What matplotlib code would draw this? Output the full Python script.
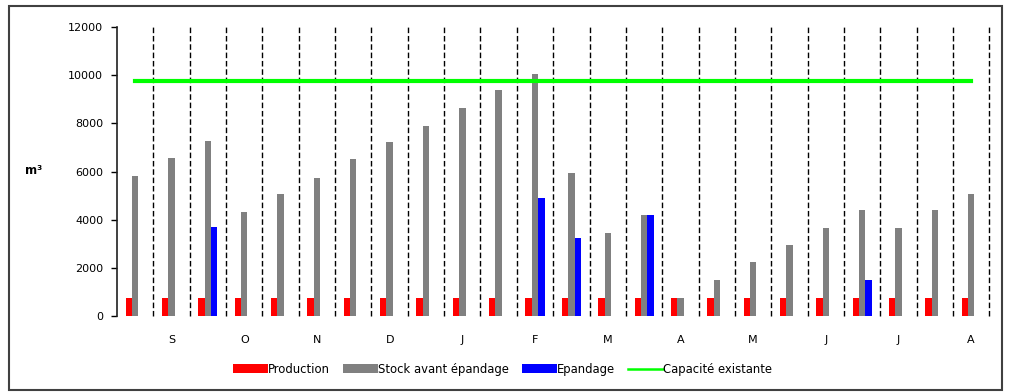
import matplotlib.pyplot as plt
from matplotlib.lines import Line2D
from matplotlib.patches import Rectangle
import numpy as np

plt.rcParams['font.family'] = ['DejaVu Sans']

# half-month periods, September to August
months = ['', 'S', '', 'O', '', 'N', '', 'D', '', 'J', '', 'F',
          '', 'M', '', 'A', '', 'M', '', 'J', '', 'J', '', 'A']
production = [750] * 24
stock = [5800, 6550, 7250, 4300, 5080, 5750, 6500, 7240, 7900, 8650, 9400, 10060,
         5950, 3450, 4200, 750, 1500, 2250, 2950, 3650, 4400, 3650, 4400, 5080]
epandage = [0, 0, 3700, 0, 0, 0, 0, 0, 0, 0, 0, 4920,
            3250, 0, 4200, 0, 0, 0, 0, 0, 1500, 0, 0, 0]
capacite = 9750

x = np.arange(24) + 0.5
w = 0.175

fig = plt.figure(figsize=(10.09, 3.92), dpi=100)
ax = fig.add_axes([0.116, 0.194, 0.8645, 0.737])

# dashed separators between periods
ax.vlines(np.arange(1, 25), 0, 12000, colors='black', linestyles=(0, (4, 2)),
          linewidth=1.0, zorder=1, clip_on=False)

ax.bar(x - w, production, w, color='#ff0000', label='Production', zorder=2)
ax.bar(x, stock, w, color='#808080', label='Stock avant épandage', zorder=2)
ax.bar(x + w, epandage, w, color='#0000ff', label='Epandage', zorder=2)
ax.plot([x[0], x[-1]], [capacite, capacite], color='#00ff00', linewidth=3,
        solid_capstyle='projecting', zorder=3)

ax.set_xlim(0, 24)
ax.set_ylim(0, 12000)
ax.set_yticks(range(0, 12001, 2000))
ax.tick_params(axis='y', direction='out', length=4, width=1, labelsize=8, pad=6)
ax.set_xticks(x)
ax.set_xticklabels(months, fontsize=8)
ax.tick_params(axis='x', length=0, pad=14)
for s in ['top', 'right', 'bottom']:
    ax.spines[s].set_visible(False)
ax.spines['left'].set_linewidth(1.2)
ax.spines['left'].set_color('#202020')

fig.text(0.025, 0.564, 'm³', fontsize=8.5, fontweight='bold', va='center')

handles, labels = ax.get_legend_handles_labels()
handles.append(Line2D([], [], color='#00ff00', linewidth=1.8))
labels.append('Capacité existante')
fig.legend(handles, labels, loc='center', bbox_to_anchor=(0.498, 0.058), ncol=4,
           frameon=False, fontsize=8.4, handlelength=3.0, handleheight=0.75,
           handletextpad=0.0, columnspacing=1.1)

# frame around the whole chart
fig.patches.append(Rectangle((9 / 1009, 2 / 392), 993 / 1009, 384 / 392,
                             transform=fig.transFigure, fill=False,
                             edgecolor='#404040', linewidth=1.5))

fig.savefig('out.png', dpi=100)
